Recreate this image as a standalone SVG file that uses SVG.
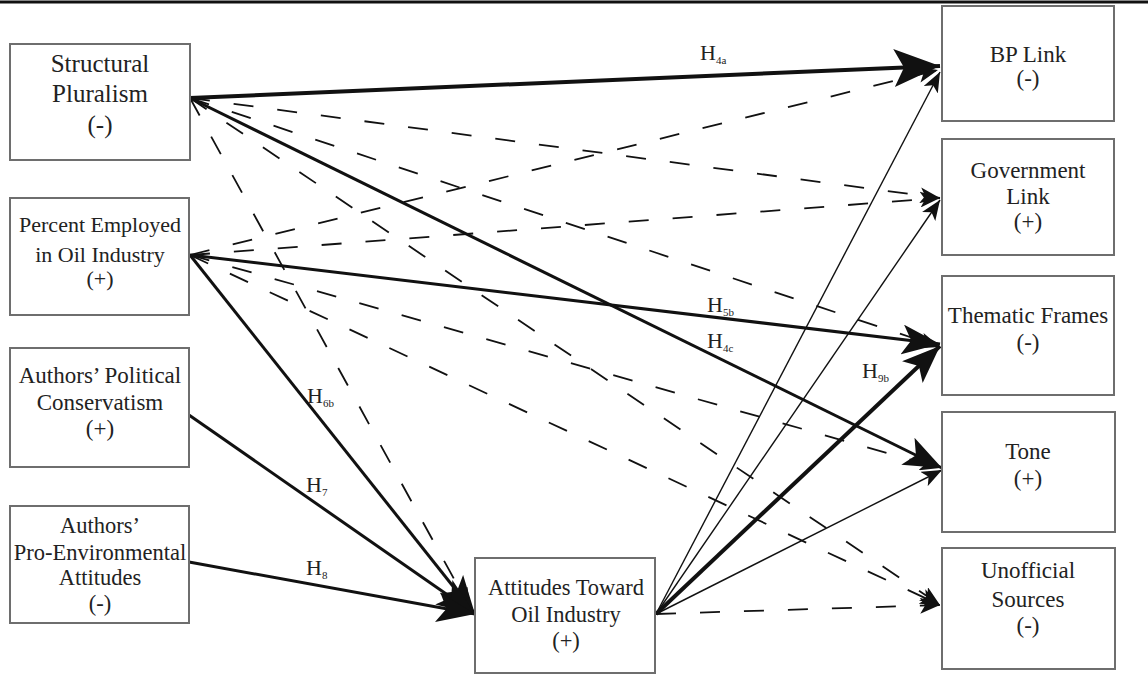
<svg xmlns="http://www.w3.org/2000/svg" width="1148" height="675" viewBox="0 0 1148 675">
<style>
.box{fill:#fff;stroke:#6e6e6e;stroke-width:2}
.t{font-family:'Liberation Serif','Times New Roman','DejaVu Serif',serif;fill:#222;text-anchor:middle}
.lbl{font-family:'Liberation Serif','Times New Roman','DejaVu Serif',serif;fill:#222;font-size:22px}
.sub{font-size:11px}
.c{fill:none;stroke:#111}
.dash{stroke-width:1.8;stroke-dasharray:20 24}
.thin{stroke-width:1.4}
.med{stroke-width:3}
.thick{stroke-width:4}
</style>
<defs>
<marker id="aXL" viewBox="0 0 46 38" refX="46" refY="19" markerWidth="46" markerHeight="38" markerUnits="userSpaceOnUse" orient="auto"><path d="M0,0 L46,19 L0,38 L10,19 z" fill="#111"/></marker>
<marker id="aL" viewBox="0 0 38 30" refX="38" refY="15" markerWidth="38" markerHeight="30" markerUnits="userSpaceOnUse" orient="auto"><path d="M0,0 L38,15 L0,30 L9,15 z" fill="#111"/></marker>
<marker id="aS" viewBox="0 0 20 16" refX="20" refY="8" markerWidth="20" markerHeight="16" markerUnits="userSpaceOnUse" orient="auto"><path d="M0,0 L20,8 L0,16 L5,8 z" fill="#111"/></marker>
</defs>
<rect width="1148" height="675" fill="#fff"/>
<line x1="0" y1="2" x2="1148" y2="2" stroke="#111" stroke-width="3"/>

<g id="connectors">
<line class="c dash" x1="190" y1="98" x2="940" y2="198" marker-end="url(#aS)"/>
<line class="c dash" x1="190" y1="98" x2="940" y2="347" marker-end="url(#aS)"/>
<line class="c dash" x1="190" y1="98" x2="940" y2="605" marker-end="url(#aS)"/>
<line class="c dash" x1="190" y1="98" x2="470" y2="608" marker-end="url(#aS)"/>
<line class="c dash" x1="190" y1="255" x2="938" y2="70" marker-end="url(#aS)"/>
<line class="c dash" x1="190" y1="255" x2="940" y2="198" marker-end="url(#aS)"/>
<line class="c dash" x1="190" y1="255" x2="940" y2="468" marker-end="url(#aS)"/>
<line class="c dash" x1="190" y1="255" x2="940" y2="605" marker-end="url(#aS)"/>
<line class="c dash" x1="656" y1="614" x2="940" y2="605" marker-end="url(#aS)"/>
<line class="c thin" x1="656" y1="614" x2="940" y2="72" marker-end="url(#aS)"/>
<line class="c thin" x1="656" y1="614" x2="940" y2="200" marker-end="url(#aS)"/>
<line class="c thin" x1="656" y1="614" x2="942" y2="470" marker-end="url(#aS)"/>
<line class="c thick" x1="190" y1="98" x2="940" y2="66" marker-end="url(#aXL)"/>
<line class="c med" x1="190" y1="98" x2="942" y2="468" marker-end="url(#aL)"/>
<line class="c med" x1="190" y1="255" x2="940" y2="344" marker-end="url(#aL)"/>
<line class="c thick" x1="656" y1="614" x2="940" y2="346" marker-end="url(#aL)"/>
<line class="c med" x1="190" y1="255" x2="475" y2="614" marker-end="url(#aL)"/>
<line class="c med" x1="189" y1="415" x2="475" y2="614" marker-end="url(#aL)"/>
<line class="c med" x1="189" y1="562" x2="475" y2="614" marker-end="url(#aL)"/>
<text class="lbl" x="700" y="60">H<tspan class="sub" dy="4">4a</tspan></text>
<text class="lbl" x="707" y="312">H<tspan class="sub" dy="4">5b</tspan></text>
<text class="lbl" x="707" y="348">H<tspan class="sub" dy="4">4c</tspan></text>
<text class="lbl" x="862" y="378">H<tspan class="sub" dy="4">9b</tspan></text>
<text class="lbl" x="307" y="403">H<tspan class="sub" dy="4">6b</tspan></text>
<text class="lbl" x="306" y="492">H<tspan class="sub" dy="4">7</tspan></text>
<text class="lbl" x="306" y="575">H<tspan class="sub" dy="4">8</tspan></text>
</g>

<g id="structural-pluralism">
<rect class="box" x="10" y="44" width="180" height="116"/>
<text class="t" font-size="25" x="100" y="72">Structural</text>
<text class="t" font-size="25" x="100" y="102">Pluralism</text>
<text class="t" font-size="25" x="100" y="133">(-)</text>
</g>
<g id="percent-employed">
<rect class="box" x="10" y="198" width="179" height="117"/>
<text class="t" font-size="22" x="100" y="232">Percent Employed</text>
<text class="t" font-size="22" x="100" y="262">in Oil Industry</text>
<text class="t" font-size="22" x="100" y="286">(+)</text>
</g>
<g id="political-conservatism">
<rect class="box" x="10" y="348" width="179" height="119"/>
<text class="t" font-size="23" x="100" y="383">Authors’ Political</text>
<text class="t" font-size="23" x="100" y="410">Conservatism</text>
<text class="t" font-size="23" x="100" y="436">(+)</text>
</g>
<g id="pro-environmental">
<rect class="box" x="10" y="506" width="179" height="117"/>
<text class="t" font-size="22.5" x="100" y="533">Authors’</text>
<text class="t" font-size="22.5" x="100" y="560">Pro-Environmental</text>
<text class="t" font-size="22.5" x="100" y="585">Attitudes</text>
<text class="t" font-size="22.5" x="100" y="611">(-)</text>
</g>
<g id="attitudes-oil">
<rect class="box" x="475" y="558" width="180" height="115"/>
<text class="t" font-size="22.5" x="566" y="595">Attitudes Toward</text>
<text class="t" font-size="22.5" x="566" y="622">Oil Industry</text>
<text class="t" font-size="22.5" x="566" y="648">(+)</text>
</g>
<g id="bp-link">
<rect class="box" x="942" y="6" width="172" height="115"/>
<text class="t" font-size="23" x="1028" y="62">BP Link</text>
<text class="t" font-size="23" x="1028" y="86">(-)</text>
</g>
<g id="government-link">
<rect class="box" x="942" y="139" width="172" height="116"/>
<text class="t" font-size="23" x="1028" y="178">Government</text>
<text class="t" font-size="23" x="1028" y="204">Link</text>
<text class="t" font-size="23" x="1028" y="229">(+)</text>
</g>
<g id="thematic-frames">
<rect class="box" x="942" y="276" width="172" height="119"/>
<text class="t" font-size="23" x="1028" y="323">Thematic Frames</text>
<text class="t" font-size="23" x="1028" y="350">(-)</text>
</g>
<g id="tone">
<rect class="box" x="942" y="412" width="173" height="120"/>
<text class="t" font-size="23" x="1028" y="459">Tone</text>
<text class="t" font-size="23" x="1028" y="486">(+)</text>
</g>
<g id="unofficial-sources">
<rect class="box" x="942" y="548" width="173" height="121"/>
<text class="t" font-size="23" x="1028" y="578">Unofficial</text>
<text class="t" font-size="23" x="1028" y="607">Sources</text>
<text class="t" font-size="23" x="1028" y="633">(-)</text>
</g>
</svg>
